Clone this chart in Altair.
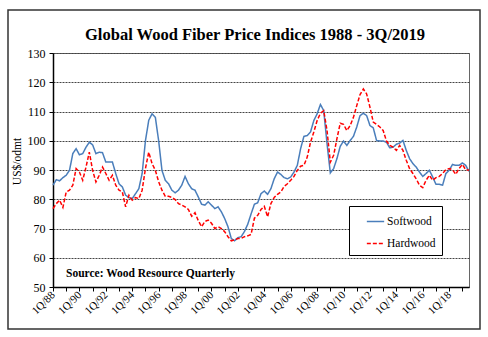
import json
import altair as alt
import pandas as pd

# ---- data (quarterly, 1Q/1988 .. 3Q/2019) ----
softwood = [84.8, 86.7, 86.3, 87.4, 88.2, 89.9, 95.6, 97.3, 95.2, 95.6, 97.8, 99.5, 98.6, 95.6, 96.1, 95.9,
            92.7, 92.7, 92.7, 88.8, 85.3, 84.2, 81.4, 80.6, 80.2, 81.9, 83.6, 88.8, 100.0, 107.0, 109.2, 108.0,
            100.0, 89.9, 86.5, 85.3, 83.1, 82.2, 83.1, 84.8, 87.8, 85.3, 83.6, 83.1, 80.8, 78.3, 78.0, 79.1,
            78.0, 76.8, 77.4, 75.7, 73.4, 70.6, 66.6, 65.8, 66.9, 67.2, 69.0, 71.5,
            75.0, 78.3, 78.8, 81.9, 82.8, 81.7, 83.6, 87.0, 89.3, 88.5, 87.4, 87.0, 87.6, 89.3, 91.6, 97.3,
            101.5, 101.8, 103.0, 106.9, 109.2, 112.4, 110.3, 99.0, 89.0, 90.5, 93.9, 98.1, 99.9, 98.4, 100.1,
            101.5, 104.7, 108.6, 109.4, 108.6, 105.2, 104.4, 100.1, 99.9, 99.9, 99.5, 97.6, 97.8, 98.8, 99.2,
            100.1, 96.7, 93.9, 92.2, 91.0, 89.3, 87.8, 88.8, 89.9, 87.6, 85.1, 85.1, 84.8, 88.8, 89.9, 91.9,
            91.6, 91.6, 92.4, 91.6, 89.5]
hardwood = [76.8, 78.5, 79.7, 77.2, 82.5, 83.1, 84.8, 90.5, 89.3, 86.5, 91.0, 96.1, 89.9, 85.9, 88.2, 91.0,
            88.8, 86.5, 88.2, 84.8, 83.1, 82.5, 77.4, 81.4, 79.7, 80.6, 80.2, 83.1, 90.5, 96.1, 92.2, 89.9,
            86.0, 83.1, 81.0, 81.0, 80.6, 79.9, 78.5, 78.0, 77.4, 76.5, 74.2, 75.4, 72.7, 70.6, 72.4, 72.9,
            71.8, 70.0, 70.6, 70.0, 68.9, 67.2, 65.8, 66.1, 66.6, 66.6, 67.2, 67.5,
            68.0, 73.5, 74.5, 76.5, 77.6, 74.0, 78.5, 80.6, 81.7, 82.5, 84.4, 85.3, 86.5, 87.8, 89.9, 91.3,
            91.6, 94.4, 99.5, 103.0, 106.9, 109.4, 110.3, 103.5, 92.7, 95.0, 100.7, 106.0, 105.6, 103.5, 105.2,
            108.0, 112.0, 115.8, 117.7, 116.0, 111.5, 106.4, 105.6, 104.7, 103.5, 99.9, 98.4, 97.8, 96.7, 98.4,
            96.7, 93.3, 90.5, 88.8, 87.0, 84.8, 84.0, 86.5, 88.2, 86.5, 87.4, 87.8, 88.8, 90.1, 90.5, 90.1,
            88.5, 90.5, 91.9, 90.1, 89.9]
series_names = ["Softwood", "Hardwood"]
quarters = [f"{q}Q/{y % 100:02d}" for y in range(1988, 2020) for q in range(1, 5)][:len(softwood)]
x_tick_labels = ["1Q/88", "1Q/90", "1Q/92", "1Q/94", "1Q/96", "1Q/98", "1Q/00", "1Q/02",
                 "1Q/04", "1Q/06", "1Q/08", "1Q/10", "1Q/12", "1Q/14", "1Q/16", "1Q/18"]
y_ticks = [50, 60, 70, 80, 90, 100, 110, 120, 130]

rows = []
for name, vals in zip(series_names, [softwood, hardwood]):
    for i, v in enumerate(vals):
        rows.append({"idx": i, "quarter": quarters[i], "series": name, "value": v})
df = pd.DataFrame(rows)

SERIF = "Liberation Serif"
label_expr = ("datum.value % 8 == 0 ? " + json.dumps(x_tick_labels) +
              "[round(datum.value / 8)] : ''")

lines = alt.Chart(df).mark_line(strokeWidth=1.5).encode(
    x=alt.X("idx:Q", scale=alt.Scale(domain=[0, len(softwood) - 1], nice=False, zero=False),
            axis=alt.Axis(values=list(range(0, len(softwood), 4)), labelExpr=label_expr,
                          labelAngle=-45, labelAlign="right", labelBaseline="middle",
                          labelPadding=2, grid=False, title=None, labelFontSize=11,
                          labelOverlap=False)),
    y=alt.Y("value:Q", scale=alt.Scale(domain=[50, 130], nice=False, zero=False),
            axis=alt.Axis(values=y_ticks, title="US$/odmt", titleX=-31, titleY=108,
                          titleFontSize=11.5, titleFontWeight="normal", labelFontSize=12,
                          labelPadding=4, grid=True, gridDash=[2, 1], gridColor="#444")),
    color=alt.Color("series:N", scale=alt.Scale(domain=series_names, range=["#4A7EBB", "#FF0000"]),
                    legend=alt.Legend(title=None)),
    strokeDash=alt.StrokeDash("series:N", scale=alt.Scale(domain=series_names, range=[[1, 0], [4, 2]]),
                              legend=alt.Legend(title=None)),
    order=alt.Order("idx:Q"),
)

source = alt.Chart(pd.DataFrame({"t": ["Source: Wood Resource Quarterly"]})).mark_text(
    font=SERIF, fontSize=11.5, fontWeight="bold", align="left", baseline="middle", color="#000"
).encode(text="t:N", x=alt.value(13), y=alt.value(221))

frame = alt.Chart(pd.DataFrame({"a": [0]})).mark_rect(
    fillOpacity=0, stroke="#333", strokeWidth=1.5
).encode(x=alt.value(-45), x2=alt.value(427), y=alt.value(-43), y2=alt.value(276))

chart = alt.layer(lines, source, frame).properties(
    width=416, height=234,
    title=alt.TitleParams("Global Wood Fiber Price Indices 1988 - 3Q/2019", font=SERIF, fontSize=16.5,
                          fontWeight="bold", color="#000", anchor="middle", offset=-34, dx=-6),
    padding={"left": 53, "top": 53, "right": 19, "bottom": 50},
    autosize=alt.AutoSizeParams(type="none"),
    background="white",
).configure_axis(
    labelFont=SERIF, titleFont=SERIF, labelColor="#000", titleColor="#000",
    domainColor="#000", domainWidth=1.5, tickColor="#000", tickSize=4, tickWidth=1,
).configure_axisX(domainWidth=1.5).configure_view(
    stroke="#666", strokeWidth=1
).configure_legend(
    orient="none", legendX=296, legendY=153, strokeColor="#000", fillColor="white",
    padding=6, symbolType="stroke", symbolSize=300, symbolStrokeWidth=1.5, symbolOffset=11,
    labelFont=SERIF, labelFontSize=11.5, labelColor="#000", labelOffset=2, rowPadding=7,
)

chart.save("out.html", embed_options={"renderer": "svg", "actions": False})
